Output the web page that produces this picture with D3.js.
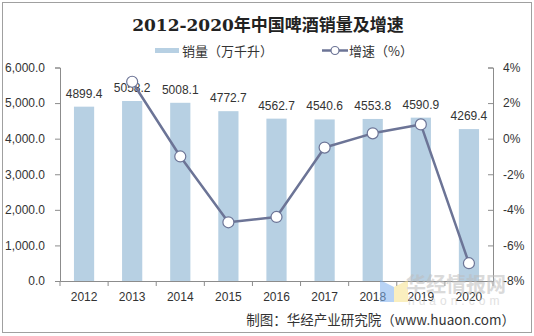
<!DOCTYPE html>
<html>
<head>
<meta charset="utf-8">
<script src="https://cdn.jsdelivr.net/npm/d3@7"></script>
<style>
  html, body { margin: 0; padding: 0; background: #fff; }
  svg { display: block; }
  text { font-family: "Liberation Sans", Arial, "Noto Sans CJK SC", sans-serif; }
</style>
</head>
<body>
<svg id="chart" width="534" height="336"></svg>
<script>
// Beer sales volume (10k kilolitres) and year-on-year growth, 2012-2020
const years = ["2012", "2013", "2014", "2015", "2016", "2017", "2018", "2019", "2020"];
const sales = [4899.4, 5058.2, 5008.1, 4772.7, 4562.7, 4540.6, 4553.8, 4590.9, 4269.4];
const growth = [null, 3.2, -1.0, -4.7, -4.4, -0.5, 0.3, 0.8, -7.0];
const leftTicks = [0, 1000, 2000, 3000, 4000, 5000, 6000];
const rightTicks = [-8, -6, -4, -2, 0, 2, 4];

const titleText = "2012-2020年中国啤酒销量及增速";
const legendBar = "销量（万千升）";
const legendLine = "增速（%）";
const sourceText = "制图：华经产业研究院（www.huaon.com）";

const barColor = "#b7d0e3";
const lineColor = "#6c7496";
const axisColor = "#8c8c8c";
const textColor = "#333";

const svg = d3.select("#chart");

// outer frame
svg.append("rect")
  .attr("x", 2.5).attr("y", 2.5).attr("width", 529).attr("height", 330)
  .attr("fill", "#fff").attr("stroke", "#a0a0a0").attr("stroke-width", 1);

const plot = { left: 60, right: 493, top: 67.5, bottom: 281 };

const x = d3.scaleBand().domain(years).range([plot.left, plot.right]).padding(0);
const step = x.step();
const barW = step * 0.42;
const yL = d3.scaleLinear().domain([0, 6000]).range([plot.bottom, plot.top]);
const yR = d3.scaleLinear().domain([-8, 4]).range([plot.bottom, plot.top]);

// bars
svg.append("g").selectAll("rect").data(years).join("rect")
  .attr("x", (d) => x(d) + (step - barW) / 2)
  .attr("width", barW)
  .attr("y", (d, i) => yL(sales[i]))
  .attr("height", (d, i) => plot.bottom - yL(sales[i]))
  .attr("fill", barColor);

// bar value labels
svg.append("g").selectAll("text").data(years).join("text")
  .attr("x", (d) => x(d) + step / 2)
  .attr("y", (d, i) => yL(sales[i]) - 9)
  .attr("text-anchor", "middle")
  .attr("font-size", 12)
  .attr("fill", textColor)
  .text((d, i) => sales[i].toFixed(1));

// left axis
const gL = svg.append("g").attr("transform", `translate(${plot.left},0)`)
  .call(d3.axisLeft(yL).tickValues(leftTicks).tickFormat(d3.format(",.1f"))
    .tickSize(5).tickPadding(10));
// right axis, ticks pointing into the plot
const gR = svg.append("g").attr("transform", `translate(${plot.right},0)`)
  .call(d3.axisRight(yR).tickValues(rightTicks).tickFormat((d) => `${d}%`)
    .tickSize(-5).tickPadding(10));
// bottom axis with ticks at category boundaries
const gB = svg.append("g").attr("transform", `translate(0,${plot.bottom})`)
  .call(d3.axisBottom(x).tickSize(0).tickPadding(11));
gB.selectAll(".boundary").data(years.concat(["end"])).join("line")
  .attr("class", "boundary")
  .attr("x1", (d) => d === "end" ? plot.right : x(d))
  .attr("x2", (d) => d === "end" ? plot.right : x(d))
  .attr("y1", 0).attr("y2", 5)
  .attr("stroke", axisColor);

[gL, gR, gB].forEach((g) => {
  g.select(".domain").attr("stroke", axisColor);
  g.selectAll(".tick line").attr("stroke", axisColor);
  g.selectAll(".tick text").attr("fill", textColor).attr("font-size", 12)
    .attr("font-family", "'Liberation Sans', Arial, sans-serif");
});

// growth line
const pts = years.map((d, i) => ({ year: d, v: growth[i] })).filter((p) => p.v !== null);
const line = d3.line().x((p) => x(p.year) + step / 2).y((p) => yR(p.v));
svg.append("path").datum(pts)
  .attr("d", line)
  .attr("fill", "none")
  .attr("stroke", lineColor)
  .attr("stroke-width", 2.5)
  .attr("stroke-linejoin", "round");
svg.append("g").selectAll("circle").data(pts).join("circle")
  .attr("cx", (p) => x(p.year) + step / 2)
  .attr("cy", (p) => yR(p.v))
  .attr("r", 5.5)
  .attr("fill", "#fff")
  .attr("stroke", lineColor)
  .attr("stroke-width", 1.2);

// title
svg.append("text")
  .attr("x", 268).attr("y", 31)
  .attr("text-anchor", "middle")
  .attr("font-size", 17)
  .attr("font-weight", "bold")
  .attr("fill", "#222")
  .style("font-family", "'DejaVu Serif', 'Noto Sans CJK SC', serif")
  .text(titleText);

// legend
const lg = svg.append("g");
lg.append("rect").attr("x", 155).attr("y", 48).attr("width", 24).attr("height", 5).attr("fill", barColor);
lg.append("text").attr("x", 182).attr("y", 56).attr("font-size", 13).attr("fill", textColor)
  .style("font-family", "'Noto Sans CJK SC', sans-serif").text(legendBar);
lg.append("line").attr("x1", 322).attr("x2", 348).attr("y1", 50.5).attr("y2", 50.5)
  .attr("stroke", lineColor).attr("stroke-width", 2.5);
lg.append("circle").attr("cx", 335).attr("cy", 50.5).attr("r", 4)
  .attr("fill", "#fff").attr("stroke", lineColor).attr("stroke-width", 1.2);
lg.append("text").attr("x", 349).attr("y", 56).attr("font-size", 13).attr("fill", textColor)
  .style("font-family", "'Noto Sans CJK SC', sans-serif").text(legendLine);

// source note
svg.append("text")
  .attr("x", 515).attr("y", 325)
  .attr("text-anchor", "end")
  .attr("font-size", 13.5)
  .attr("fill", textColor)
  .style("font-family", "'Noto Sans CJK SC', sans-serif")
  .text(sourceText);

// faint site watermark
const wm = svg.append("g").attr("opacity", 0.55);
wm.append("path").attr("d", "M380,280 L394,287 L394,302 L380,302 Z").attr("fill", "#7fb0ee");
wm.append("path").attr("d", "M394,287 L408,280 L408,302 L394,302 Z").attr("fill", "#f6e38c");
wm.append("text").attr("x", 406).attr("y", 292).attr("font-size", 20).attr("font-weight", "bold")
  .attr("fill", "#bdbdbd").style("font-family", "'Noto Sans CJK SC', sans-serif").text("华经情报网");
wm.append("text").attr("x", 408).attr("y", 305).attr("font-size", 12).attr("letter-spacing", 4)
  .attr("fill", "#c8c8c8").text("huaon.com");
</script>
</body>
</html>
